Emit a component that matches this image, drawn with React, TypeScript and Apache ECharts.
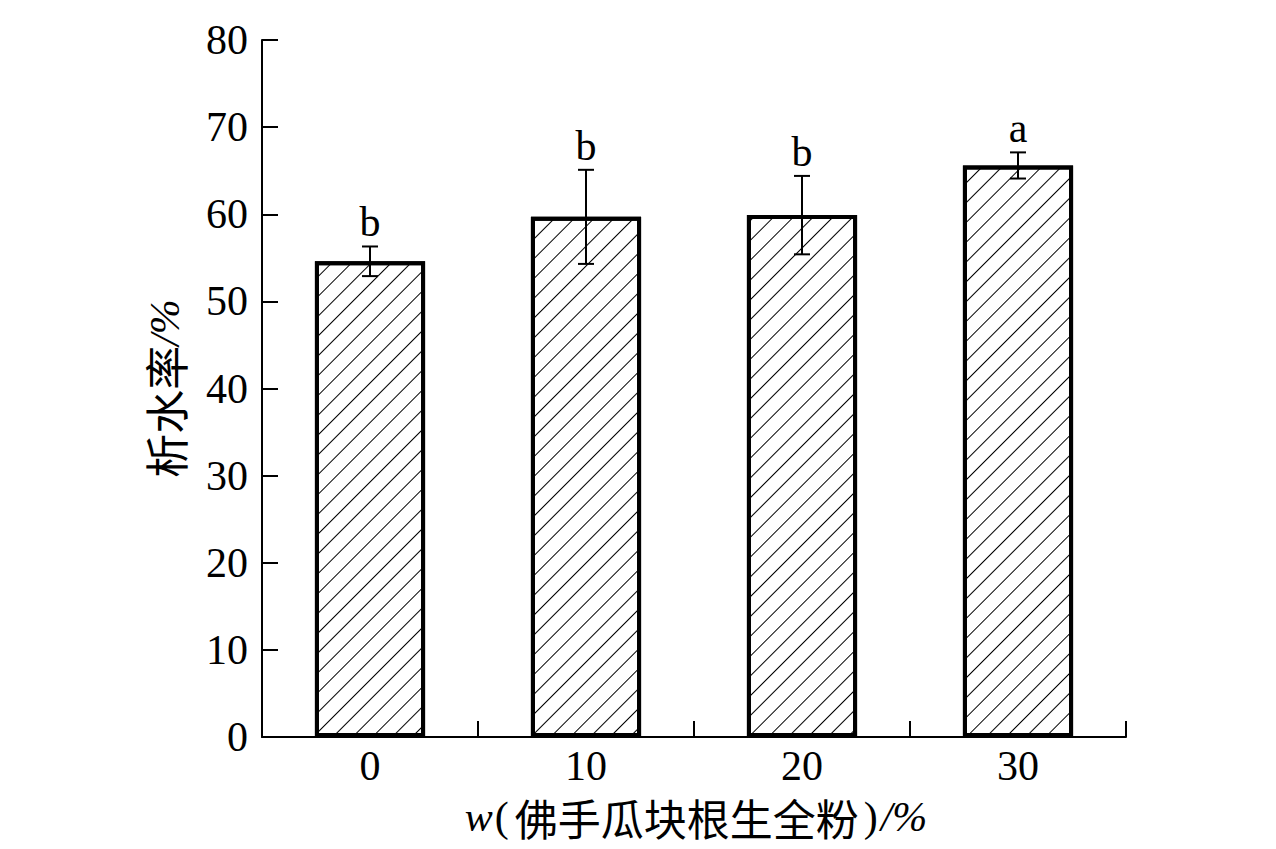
import React, { useEffect, useRef } from "react";
import * as echarts from "echarts";

const categories = ["0", "10", "20", "30"];
const means = [54.6, 59.7, 59.9, 65.6];
const errors = [1.7, 5.4, 4.5, 1.5];
const letters = ["b", "b", "b", "a"];
const yTicks = { min: 0, max: 80, interval: 10 };

const SERIF = "'Liberation Serif', 'Times New Roman', serif";
const CJK = "'Noto Sans CJK SC', sans-serif";

export default function App() {
  const ref = useRef<HTMLDivElement>(null);
  useEffect(() => {
    document.body.style.margin = "0";
    if (!ref.current) return;
    const chart = echarts.init(ref.current, undefined, { renderer: "svg" });
    const errData = means.map((m, i) => [i, m - errors[i], m + errors[i]]);
    chart.setOption({
      animation: false,
      backgroundColor: "#fff",
      grid: { left: 262, right: 150, top: 40, bottom: 112, containLabel: false },
      xAxis: {
        type: "category",
        data: categories,
        boundaryGap: true,
        axisLine: { show: true, lineStyle: { color: "#000", width: 2 } },
        axisTick: { show: true, inside: true, length: 16, alignWithLabel: false, lineStyle: { color: "#000", width: 2 } },
        axisLabel: { color: "#000", fontSize: 42, fontFamily: SERIF, margin: 8 },
        splitLine: { show: false },
      },
      yAxis: {
        type: "value",
        min: yTicks.min,
        max: yTicks.max,
        interval: yTicks.interval,
        axisLine: { show: true, lineStyle: { color: "#000", width: 2 } },
        axisTick: { show: true, inside: true, length: 16, lineStyle: { color: "#000", width: 2 } },
        axisLabel: { color: "#000", fontSize: 42, fontFamily: SERIF, margin: 14 },
        splitLine: { show: false },
        name: "{t|析水率}{p|/%}",
        nameLocation: "middle",
        nameGap: 75,
        nameTextStyle: {
          color: "#000",
          rich: {
            t: { fontFamily: CJK, fontSize: 44, color: "#000", lineHeight: 44 },
            p: { fontFamily: SERIF, fontStyle: "italic", fontSize: 42, color: "#000", lineHeight: 44 },
          },
        },
      },
      graphic: [
        {
          type: "text",
          x: 696,
          y: 817,
          style: {
            text: "{w|w}{l|(}{t|佛手瓜块根生全粉}{r|)}{p|/%}",
            align: "center",
            verticalAlign: "middle",
            rich: {
              w: { fontStyle: "italic", fontFamily: SERIF, fontSize: 42, fill: "#000", lineHeight: 42 },
              l: { fontFamily: SERIF, fontSize: 42, fill: "#000", padding: [0, 6, 0, 2], lineHeight: 42 },
              t: { fontFamily: CJK, fontSize: 43, fill: "#000", lineHeight: 42 },
              r: { fontFamily: SERIF, fontSize: 42, fill: "#000", padding: [0, 3, 0, 5], lineHeight: 42 },
              p: { fontStyle: "italic", fontFamily: SERIF, fontSize: 42, fill: "#000", lineHeight: 42 },
            },
          },
        },
      ],
      series: [
        {
          type: "bar",
          data: means,
          barWidth: "51%",
          itemStyle: {
            color: "#fff",
            borderColor: "#000",
            borderWidth: 4,
            decal: {
              symbol: "rect",
              color: "#000",
              backgroundColor: "transparent",
              dashArrayX: [1, 0],
              dashArrayY: [1, 13],
              rotation: -Math.PI / 4,
            },
          },
          z: 2,
        },
        {
          type: "custom",
          data: errData,
          z: 5,
          clip: false,
          renderItem: (params: any, api: any) => {
            const x = api.value(0);
            const lo = api.value(1);
            const hi = api.value(2);
            const pHi = api.coord([x, hi]);
            const pLo = api.coord([x, lo]);
            const hw = 8;
            const st = { stroke: "#000", lineWidth: 2 };
            return {
              type: "group",
              children: [
                { type: "line", shape: { x1: pHi[0], y1: pHi[1], x2: pLo[0], y2: pLo[1] }, style: st },
                { type: "line", shape: { x1: pHi[0] - hw, y1: pHi[1], x2: pHi[0] + hw, y2: pHi[1] }, style: st },
                { type: "line", shape: { x1: pLo[0] - hw, y1: pLo[1], x2: pLo[0] + hw, y2: pLo[1] }, style: st },
                {
                  type: "text",
                  x: pHi[0],
                  y: pHi[1] - 3,
                  style: {
                    text: letters[params.dataIndex],
                    fontSize: 42,
                    fontFamily: SERIF,
                    fill: "#000",
                    align: "center",
                    verticalAlign: "bottom",
                  },
                },
              ],
            };
          },
        },
      ],
    });
    return () => chart.dispose();
  }, []);
  return <div ref={ref} style={{ width: 1276, height: 849 }} />;
}
